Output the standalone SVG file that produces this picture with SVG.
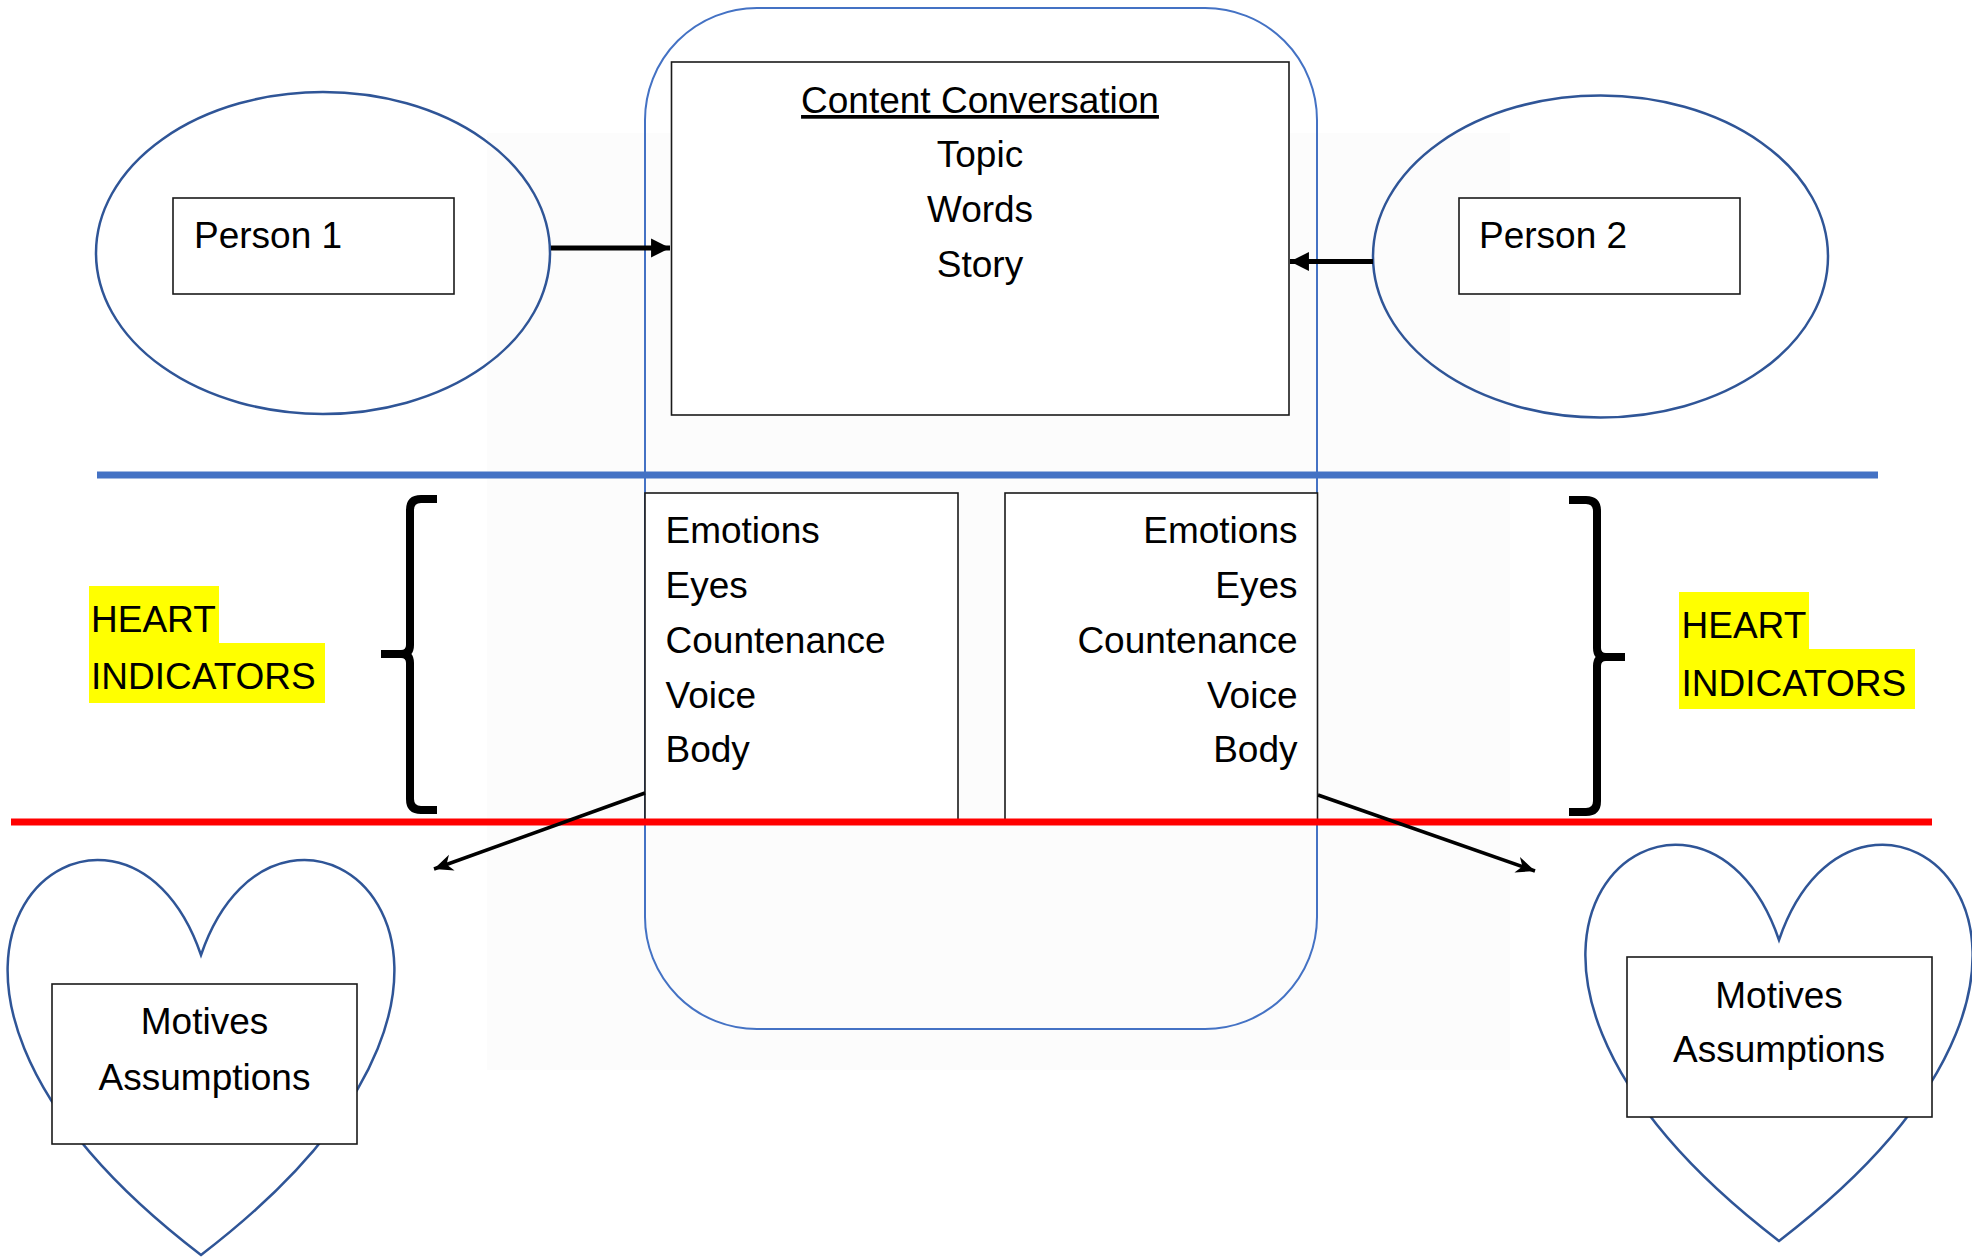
<svg xmlns="http://www.w3.org/2000/svg" width="1972" height="1258" viewBox="0 0 1972 1258">
<style>
text{font-family:"Liberation Sans",Arial,sans-serif;font-size:37px;fill:#000}
.shape{fill:none;stroke:#2f5597;stroke-width:2.5}
.box{fill:#fff;stroke:#1a1a1a;stroke-width:1.6}
.mid{text-anchor:middle}
.end{text-anchor:end}
.hl{fill:#ffff00}
.brace{fill:none;stroke:#000;stroke-width:8;stroke-linejoin:miter}
</style>
<defs>
<marker id="thick" markerUnits="userSpaceOnUse" markerWidth="20" markerHeight="20" viewBox="-18 -9 19 18" refX="0" refY="0" orient="auto">
<path d="M0,0 L-18,-9 L-18,9 Z" fill="#000"/>
</marker>
<marker id="thin" markerUnits="userSpaceOnUse" markerWidth="20" markerHeight="20" viewBox="-17 -8 18 16" refX="0" refY="0" orient="auto">
<path d="M0,0 L-17,-7.5 L-12,0 L-17,7.5 Z" fill="#000"/>
</marker>
</defs>
<rect width="1972" height="1258" fill="#fff"/>
<rect x="487" y="133" width="1023" height="937" fill="#fcfcfc"/>

<g id="container">
<rect x="645" y="8" width="672" height="1021" rx="112" ry="112" fill="none" stroke="#4472c4" stroke-width="2"/>
</g>

<g id="person1">
<ellipse class="shape" cx="323" cy="253" rx="227" ry="161"/>
<rect class="box" x="173" y="198" width="281" height="96"/>
<text x="194" y="248">Person 1</text>
</g>

<g id="person2">
<ellipse class="shape" cx="1600.5" cy="256.5" rx="227.5" ry="161"/>
<rect class="box" x="1459" y="198" width="281" height="96"/>
<text x="1479" y="248">Person 2</text>
</g>

<g id="content">
<rect class="box" x="671.5" y="62" width="617.5" height="353"/>
<text class="mid" x="980" y="113" text-decoration="underline">Content Conversation</text>
<text class="mid" x="980" y="167">Topic</text>
<text class="mid" x="980" y="222">Words</text>
<text class="mid" x="980" y="277">Story</text>
</g>

<g id="dividers">
<line x1="97" y1="475" x2="1878" y2="475" stroke="#4472c4" stroke-width="7"/>
</g>

<g id="heart-indicators-left">
<rect class="box" x="645" y="493" width="313" height="327"/>
<text x="665.5" y="543">Emotions</text>
<text x="665.5" y="598">Eyes</text>
<text x="665.5" y="653">Countenance</text>
<text x="665.5" y="708">Voice</text>
<text x="665.5" y="762">Body</text>
</g>

<g id="heart-indicators-right">
<rect class="box" x="1005" y="493" width="312.5" height="327"/>
<text class="end" x="1297.5" y="543">Emotions</text>
<text class="end" x="1297.5" y="598">Eyes</text>
<text class="end" x="1297.5" y="653">Countenance</text>
<text class="end" x="1297.5" y="708">Voice</text>
<text class="end" x="1297.5" y="762">Body</text>
</g>

<g id="label-left">
<rect class="hl" x="89" y="586" width="130" height="58"/>
<rect class="hl" x="89" y="643" width="236" height="60"/>
<text x="91" y="632">HEART</text>
<text x="91" y="689">INDICATORS</text>
</g>

<g id="label-right">
<rect class="hl" x="1679" y="592" width="130" height="58"/>
<rect class="hl" x="1679" y="649" width="236" height="60"/>
<text x="1681.5" y="638">HEART</text>
<text x="1681.5" y="696">INDICATORS</text>
</g>

<g id="brace-left">
<path class="brace" d="M437,499 H421 Q410,499 410,510 V645 Q410,654 401,654 H381 H401 Q410,654 410,663 V799 Q410,810 421,810 H437"/>
</g>
<g id="brace-right">
<path class="brace" d="M1569,500 H1586 Q1597,500 1597,511 V648 Q1597,657 1606,657 H1625 H1606 Q1597,657 1597,666 V801 Q1597,812 1586,812 H1569"/>
</g>

<g id="red-line">
<line x1="11" y1="822" x2="1932" y2="822" stroke="#ff0000" stroke-width="7"/>
</g>

<g id="heart-left">
<path class="shape" d="M201,955 C281,721.7 593,955 201,1255 C-191,955 121,721.7 201,955 Z" style="fill:#fff"/>
<rect class="box" x="52" y="984" width="305" height="160"/>
<text class="mid" x="204.5" y="1034">Motives</text>
<text class="mid" x="204.5" y="1090">Assumptions</text>
</g>

<g id="heart-right">
<path class="shape" d="M1779,940 C1859,706 2171.5,940 1779,1241 C1386.5,940 1699,706 1779,940 Z" style="fill:#fff"/>
<rect class="box" x="1627" y="957" width="305" height="160"/>
<text class="mid" x="1779" y="1008">Motives</text>
<text class="mid" x="1779" y="1062">Assumptions</text>
</g>

<g id="connectors">
<line x1="551" y1="248" x2="670" y2="248" stroke="#000" stroke-width="5" marker-end="url(#thick)"/>
<line x1="1373" y1="261.5" x2="1290" y2="261.5" stroke="#000" stroke-width="5" marker-end="url(#thick)"/>
<line x1="645" y1="793" x2="434" y2="869" stroke="#000" stroke-width="3.5" marker-end="url(#thin)"/>
<line x1="1318" y1="795" x2="1535" y2="871" stroke="#000" stroke-width="3.5" marker-end="url(#thin)"/>
</g>
</svg>
